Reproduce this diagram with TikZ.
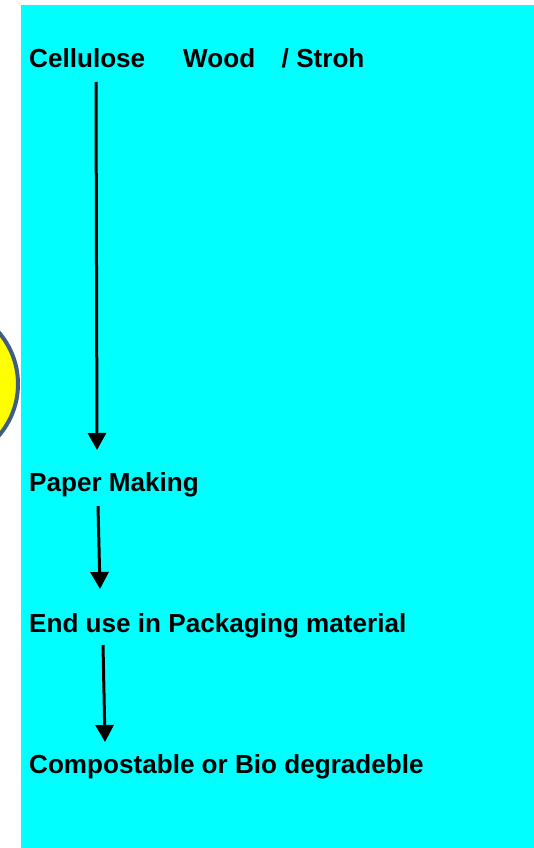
\documentclass[tikz,border=0pt]{standalone}
\usepackage{fontspec}
\setmainfont{Liberation Sans}
\usetikzlibrary{arrows.meta}
\definecolor{bgcyan}{RGB}{0,255,255}
\definecolor{discyellow}{RGB}{255,255,0}
\definecolor{discedge}{RGB}{62,92,132}
\tikzset{
  lbl/.style={anchor=base west, inner sep=0pt, font=\fontsize{26.1}{30}\selectfont\bfseries},
  flow/.style={line width=3pt, -{Triangle[width=18pt,length=17pt]}}
}
\begin{document}
\begin{tikzpicture}[x=1pt,y=-1pt]
\useasboundingbox (0,0) rectangle (534,848);
\fill[white] (0,0) rectangle (534,848);
\draw[fill=discyellow, draw=discedge, line width=4pt] (-61,384) circle[radius=79];
\fill[bgcyan] (21,5) rectangle (534,848);
\node[lbl] (src) at (29,68) {Cellulose\hspace{38pt}Wood\hspace{26.5pt}/ Stroh};
\node[lbl] (paper) at (29,491) {Paper Making};
\node[lbl] (use) at (29,632) {End use in Packaging material};
\node[lbl] (comp) at (29,773) {Compostable or Bio degradeble};
\coordinate (a1s) at (96,82);
\coordinate (a1e) at (97,450);
\coordinate (a2s) at (98,506);
\coordinate (a2e) at (100,589);
\coordinate (a3s) at (103,645);
\coordinate (a3e) at (105,742);
\draw[flow] (a1s) -- (a1e);
\draw[flow] (a2s) -- (a2e);
\draw[flow] (a3s) -- (a3e);
\end{tikzpicture}
\end{document}
